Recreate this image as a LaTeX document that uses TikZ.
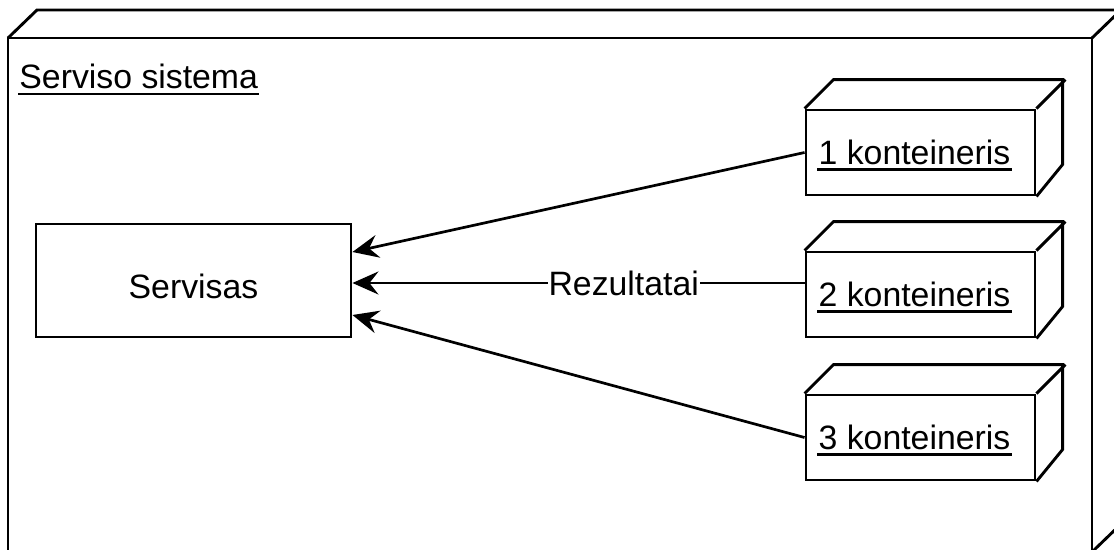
\documentclass[tikz,border=0pt]{standalone}
\usepackage{fontspec}
\setmainfont{Liberation Sans}
\usetikzlibrary{arrows.meta}
\begin{document}
\begin{tikzpicture}[x=1pt,y=-1pt, line width=2.9pt, line join=miter,
  txt/.style={font=\fontsize{33.8}{40}\selectfont},
  cont/.style={draw, minimum width=229pt, minimum height=85pt, inner sep=0pt},
  svc/.style={draw, minimum width=315pt, minimum height=113pt, txt},
  ul/.style={line width=2.2pt},
  conn/.style={-{Stealth[length=26pt,width=23pt,inset=9pt]}, line width=2.7pt}]
\clip (0,0) rectangle (1114,549);
\fill[white] (0,0) rectangle (1114,549);
% outer system node (3D box)
\draw (8,38) rectangle (1092,552);
\draw (8,38) -- (37,10) -- (1121,10) -- (1121,524) -- (1092,552);
\draw (1092,38) -- (1121,10);
\node[txt, inner sep=0pt, anchor=base west] (sys) at (18,88) {Serviso sistema};
\draw[ul] ([yshift=-6pt]sys.base west) -- ([yshift=-6pt]sys.base east);
% service
\node[svc] (S) at (193.5,280.5) {\smash{\raisebox{-18pt}{Servisas}}};
% containers
\foreach \i/\y in {1/152.5, 2/294.5, 3/437.5} {
  \node[cont] (c\i) at (920.5,\y) {};
  \draw (c\i.north west) -- ++(29,-29) -- ++(229,0) -- ++(0,85) -- (c\i.south east);
  \draw (c\i.north east) -- ++(29,-29);
  \node[txt, inner sep=0pt] (t\i) at ([xshift=-6pt]c\i.center) {\i{} konteineris};
  \draw[ul] ([yshift=-5pt]t\i.base west) -- ([yshift=-5pt]t\i.base east);
}
% connectors
\draw[conn] (c1.west) -- ([yshift=28.5pt]S.east);
\coordinate (m2) at ([yshift=11.5pt]c2.west);
\draw[conn] (m2) -- (S.east |- m2) node[pos=0.4, fill=white, txt, inner sep=1pt] (rl) {Rezultatai};
\draw[conn] (c3.west) -- ([yshift=-34.5pt]S.east);
\end{tikzpicture}
\end{document}
